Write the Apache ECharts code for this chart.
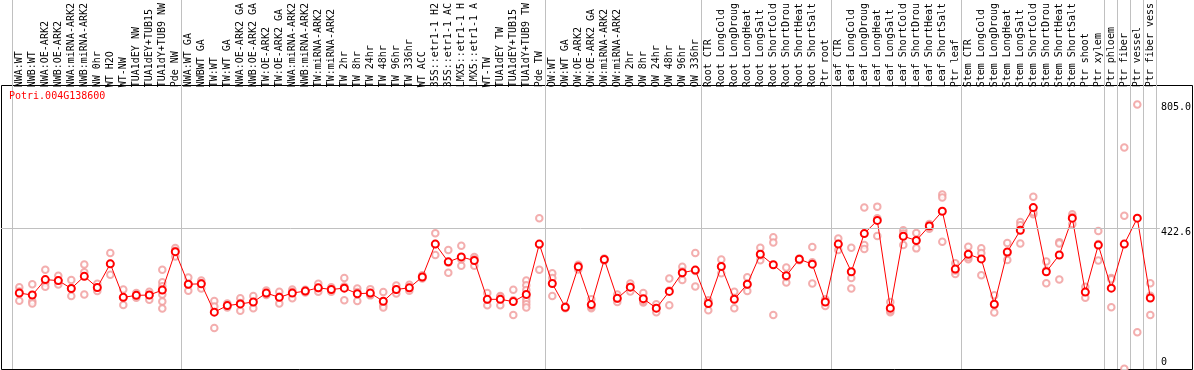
<!DOCTYPE html>
<html>
<head>
<meta charset="utf-8">
<script src="https://cdn.jsdelivr.net/npm/echarts@6/dist/echarts.min.js"></script>
<style>
html,body{margin:0;padding:0;background:#fff;}
#chart{width:1194px;height:370px;}
</style>
</head>
<body>
<div id="chart"></div>
<script>
const geneTitle = 'Potri.004G138600';

const categories = [
  'NWA:WT','NWB:WT','NWA:OE-ARK2','NWB:OE-ARK2','NWA:miRNA-ARK2','NWB:miRNA-ARK2','NW 0hr','WT H2O','WT-NW','TUA1dEY NW','TUA1dEY+TUB15','TUA1dY+TUB9 NW','Pde NW',
  'NWA:WT GA','NWBWT GA','TW:WT','TW:WT GA','NWA:OE-ARK2 GA','NWB:OE-ARK2 GA','TW:OE-ARK2','TW:OE-ARK2 GA','NWA:miRNA-ARK2','NWB:miRNA-ARK2','TW:miRNA-ARK2','TW:miRNA-ARK2','TW 2hr','TW 8hr','TW 24hr','TW 48hr','TW 96hr','TW 336hr','WT ACC','35S::etr1-1 H2','35S::etr1-1 AC','LMX5::etr1-1 H','LMX5::etr1-1 A','WT-TW','TUA1dEY TW','TUA1dEY+TUB15','TUA1dY+TUB9 TW','Pde TW',
  'OW:WT','OW:WT GA','OW:OE-ARK2','OW:OE-ARK2 GA','OW:miRNA-ARK2','OW:miRNA-ARK2','OW 2hr','OW 8hr','OW 24hr','OW 48hr','OW 96hr','OW 336hr',
  'Root CTR','Root LongCold','Root LongDroug','Root LongHeat','Root LongSalt','Root ShortCold','Root ShortDrou','Root ShortHeat','Root ShortSalt','Ptr root',
  'Leaf CTR','Leaf LongCold','Leaf LongDroug','Leaf LongHeat','Leaf LongSalt','Leaf ShortCold','Leaf ShortDrou','Leaf ShortHeat','Leaf ShortSalt','Ptr leaf',
  'Stem CTR','Stem LongCold','Stem LongDroug','Stem LongHeat','Stem LongSalt','Stem ShortCold','Stem ShortDrou','Stem ShortHeat','Stem ShortSalt','Ptr shoot','Ptr xylem',
  'Ptr phloem','Ptr fiber','Ptr vessel','Ptr fiber vess'
];

const means = [
  231,225,272,269,245,282,248,320,218,224,225,240,357,
  258,259,173,193,198,204,231,218,231,237,247,242,246,229,231,206,242,247,280,380,326,341,330,212,212,205,227,380,
  260,188,311,196,333,215,249,214,185,236,293,301,
  199,312,212,258,349,317,284,334,319,204,
  380,296,412,452,185,404,391,435,480,304,
  349,335,197,356,422,491,296,347,459,234,377,
  246,380,459,216
];

const replicates = [
  [249,208,236],[258,207,199],[302,262,250],[284,257,269],[271,222,245],[318,294,227],[259,237,247],[353,287,320],[242,195,217],[231,217,224],[235,211,225],[302,264,252,242,227,205,184],[368,360,342],
  [278,238,257],[269,245,262],[207,125,190],[199,187,192],[215,177,201],[222,185,204],[239,225,229],[235,199,220],[242,215,235],[241,233,237],[259,235,246],[249,235,242],[277,209,251],[245,207,234],[243,224,226],[234,194,187],[254,230,242],[256,238,246],[285,275,279],[413,347,380],[362,293,323],[375,314,334],[341,314,334],[231,194,211],[222,194,220],[241,164,209],[269,255,240,217,207,197,187],[459,302,379],
  [291,277,222],[190,185,189],[317,303,312],[212,185,190],[336,330,332],[227,204,214],[260,236,250],[231,202,208],[197,173,185],[275,194,239],[311,271,297],[353,251,298],
  [209,179,208],[333,291,311],[235,185,216],[279,237,257],[369,331,346],[401,385,164],[309,263,280],[336,331,334],[371,260,325],[192,207,212],
  [397,362,380],[369,277,245],[491,377,365],[494,459,405],[204,173,178],[422,377,412],[414,367,391],[441,427,436],[531,522,387],[322,289,300],
  [372,334,340],[367,285,353],[224,172,195],[383,332,352],[447,382,437],[524,471,477],[327,261,300],[386,272,382],[471,441,463],[250,217,235],[420,330,380],
  [277,188,273],[674,466,1],[805,112],[261,164,223]
];

const yLabelValues = [0, 422.6, 805];
const yGridValue = 422.6;
const yMax = 851;
const groupStartIndices = [0, 13, 41, 53, 63, 73, 84, 85, 86, 87];

const MONO = 'DejaVu Sans Mono';
const repPoints = [];
replicates.forEach((r, i) => r.forEach(v => repPoints.push([i, v])));

const chart = echarts.init(document.getElementById('chart'), null, {renderer: 'canvas'});
chart.setOption({
  animation: false,
  backgroundColor: '#fff',
  title: {
    text: geneTitle, left: 9, top: 91, padding: 0,
    textStyle: {color: '#ff0000', fontFamily: MONO, fontSize: 10, fontWeight: 'normal'}
  },
  grid: [
    {left: 12.8, top: 85, width: 1144, height: 284},
    {left: 12, top: 0, width: 1144, height: 369},
    {left: 1, top: 85, width: 1161, height: 284},
    {left: 1.5, top: 85.5, width: 1191, height: 284, show: true, borderColor: '#000', borderWidth: 1, backgroundColor: 'transparent'}
  ],
  xAxis: [
    {
      gridIndex: 0, type: 'category', data: categories, position: 'top', boundaryGap: true,
      axisLine: {show: false}, axisTick: {show: false}, splitLine: {show: false},
      axisLabel: {show: true, interval: 0, rotate: 90, margin: 2, fontFamily: MONO, fontSize: 10, color: '#000'}
    },
    {
      gridIndex: 1, type: 'category', data: categories, boundaryGap: true,
      axisLine: {show: false}, axisTick: {show: false}, axisLabel: {show: false},
      splitLine: {show: true, interval: (idx) => groupStartIndices.indexOf(idx) >= 0, lineStyle: {color: '#c0c0c0', width: 1}}
    },
    {gridIndex: 2, type: 'value', min: 0, max: 1, show: false},
    {gridIndex: 3, type: 'value', min: 0, max: 1, show: false}
  ],
  yAxis: [
    {gridIndex: 0, type: 'value', min: 0, max: yMax, show: false},
    {gridIndex: 1, type: 'value', min: 0, max: 1, show: false},
    {
      gridIndex: 2, type: 'value', min: 0, max: yMax, position: 'right',
      axisLine: {show: false}, axisTick: {show: false}, splitLine: {show: false},
      axisLabel: {
        show: true, margin: 1, customValues: yLabelValues, fontFamily: MONO, fontSize: 10, color: '#000',
        formatter: (v) => v === 0 ? '{b|0}' : (v > 800 ? '{t|' + v.toFixed(1) + '}' : '{m|' + v.toFixed(1) + '}'),
        rich: {
          t: {fontFamily: MONO, fontSize: 10, color: '#000', padding: [14, 0, 0, 0]},
          m: {fontFamily: MONO, fontSize: 10, color: '#000', padding: [8, 0, 0, 0]},
          b: {fontFamily: MONO, fontSize: 10, color: '#000', padding: [0, 0, 14, 0]}
        }
      }
    },
    {gridIndex: 3, type: 'value', min: 0, max: 1, show: false}
  ],
  series: [
    {
      type: 'line', xAxisIndex: 2, yAxisIndex: 2, data: [], silent: true,
      markLine: {
        silent: true, symbol: 'none', animation: false,
        label: {show: false},
        lineStyle: {color: '#c0c0c0', width: 1, type: 'solid'},
        data: [{yAxis: yGridValue}]
      }
    },
    {
      type: 'scatter', xAxisIndex: 0, yAxisIndex: 0, data: repPoints, z: 3,
      symbol: 'emptyCircle', symbolSize: 6.5,
      itemStyle: {color: '#f09a9a', borderColor: '#f09a9a', borderWidth: 1}
    },
    {
      type: 'line', xAxisIndex: 0, yAxisIndex: 0, data: means, z: 4,
      symbol: 'emptyCircle', symbolSize: 7, showAllSymbol: true,
      lineStyle: {color: '#ff0000', width: 1},
      itemStyle: {color: '#ff0000', borderColor: '#ff0000', borderWidth: 1.5}
    }
  ]
});
</script>
</body>
</html>
